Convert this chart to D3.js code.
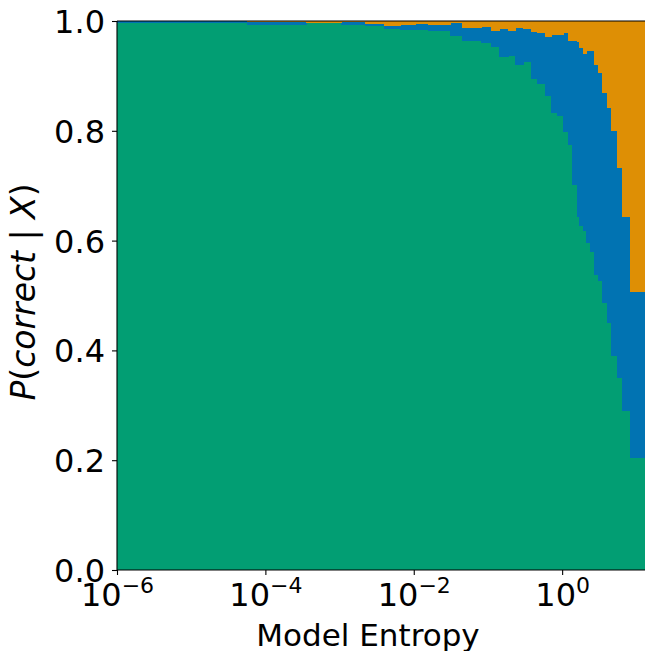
<!DOCTYPE html>
<html>
<head>
<meta charset="utf-8">
<script src="https://cdn.jsdelivr.net/npm/d3@7"></script>
<style>
  html, body { margin: 0; padding: 0; background: #fff; overflow: hidden; }
  svg { display: block; font-family: "DejaVu Sans", sans-serif; }
</style>
</head>
<body>
<svg id="chart" width="645" height="651"></svg>
<script>
// Bin edges of model entropy (log-spaced)
const binEdges = [1e-6, 5.66e-5, 3.53e-4, 1.05e-3, 2.21e-3, 3.98e-3, 6.55e-3, 1.04e-2, 1.56e-2,
  3.09e-2, 4.48e-2, 8.09e-2, 0.110, 0.141, 0.187, 0.232, 0.298, 0.382, 0.460, 0.590, 0.710,
  0.855, 1.03, 1.21, 1.36, 1.59, 1.69, 1.92, 2.10, 2.38, 2.70, 3.05, 3.46, 4.04, 4.57, 5.51,
  6.44, 8.26, 13.5];
// Stacked fractions per bin
const pGreen = [0.9969, 0.9933, 0.9969, 0.9933, 0.9909, 0.9854, 0.9836, 0.9836, 0.9818, 0.9727,
  0.9636, 0.9599, 0.9526, 0.9344, 0.9362, 0.9199, 0.9253, 0.8944, 0.8852, 0.8634, 0.8324,
  0.8270, 0.7978, 0.7741, 0.7013, 0.6430, 0.6266, 0.6175, 0.5956, 0.5792, 0.5373, 0.5264,
  0.4863, 0.4499, 0.3898, 0.3497, 0.2896, 0.2040];
const pBlue = [0.0031, 0.0049, 0.0000, 0.0049, 0.0042, 0.0055, 0.0091, 0.0109, 0.0109, 0.0237,
  0.0237, 0.0292, 0.0292, 0.0510, 0.0456, 0.0674, 0.0601, 0.0856, 0.0929, 0.1075, 0.1421,
  0.1475, 0.1803, 0.1895, 0.2623, 0.3187, 0.3242, 0.3224, 0.3498, 0.3662, 0.3826, 0.3789,
  0.3826, 0.3916, 0.4098, 0.3825, 0.3534, 0.3024];
const pOrange = [0.0000, 0.0018, 0.0031, 0.0018, 0.0049, 0.0091, 0.0073, 0.0055, 0.0073, 0.0036,
  0.0127, 0.0109, 0.0182, 0.0146, 0.0182, 0.0127, 0.0146, 0.0200, 0.0219, 0.0291, 0.0255,
  0.0255, 0.0219, 0.0364, 0.0364, 0.0383, 0.0492, 0.0601, 0.0546, 0.0546, 0.0801, 0.0947,
  0.1311, 0.1585, 0.2004, 0.2678, 0.3570, 0.4936];
const seriesKeys = ["green", "blue", "orange"];
const seriesColors = ["#029E73", "#0173B2", "#DE8F05"];
const xTickValues = [1e-6, 1e-4, 1e-2, 1e0];
const xTickExponents = ["\u22126", "\u22124", "\u22122", "0"];
const yTickValues = [0, 0.2, 0.4, 0.6, 0.8, 1.0];
const xLabel = "Model Entropy";

(function () {
const svg = d3.select("#chart");
const mLeft = 117, mTop = 21, mBottom = 570;
const x = d3.scaleLog().domain([1e-6, 13.5]).range([mLeft, 646]);
const y = d3.scaleLinear().domain([0, 1]).range([mBottom, mTop]);

const table = pGreen.map((g, i) => ({
  x0: binEdges[i], x1: binEdges[i + 1], green: g, blue: pBlue[i], orange: pOrange[i]
}));
const stacked = d3.stack().keys(seriesKeys)(table);

svg.append("g").selectAll("g").data(stacked).join("g")
  .attr("fill", (d, i) => seriesColors[i])
  .selectAll("rect").data(d => d).join("rect")
  .attr("shape-rendering", "crispEdges")
  .attr("x", d => x(d.data.x0))
  .attr("width", d => x(d.data.x1) - x(d.data.x0) + 0.5)
  .attr("y", d => y(d[1]))
  .attr("height", d => y(d[0]) - y(d[1]));

// spines
const spine = svg.append("g").attr("stroke", "#000").attr("stroke-width", 1.1);
spine.append("line").attr("x1", mLeft).attr("x2", mLeft).attr("y1", mTop).attr("y2", mBottom);
spine.append("line").attr("x1", mLeft).attr("x2", 646).attr("y1", mBottom).attr("y2", mBottom);
spine.append("line").attr("x1", mLeft).attr("x2", 646).attr("y1", mTop).attr("y2", mTop);

// y axis
const yAxis = d3.axisLeft(y).tickValues(yTickValues).tickFormat(d3.format(".1f"))
  .tickSize(5).tickPadding(7);
const gy = svg.append("g").attr("transform", `translate(${mLeft},0)`).call(yAxis);
gy.select(".domain").remove();
gy.selectAll(".tick line").attr("stroke-width", 1.1);
gy.selectAll(".tick text").attr("font-size", 32).attr("font-family", "DejaVu Sans")
  .attr("fill", "#000").attr("dy", "0.36em");

// x axis
const xAxis = d3.axisBottom(x).tickValues(xTickValues).tickFormat("").tickSize(5);
const gx = svg.append("g").attr("transform", `translate(0,${mBottom})`).call(xAxis);
gx.select(".domain").remove();
gx.selectAll(".tick line").attr("stroke-width", 1.1);
gx.selectAll(".tick").each(function(d, i) {
  const t = d3.select(this).append("text").attr("y", 36).attr("text-anchor", "middle")
    .attr("fill", "#000").attr("font-family", "DejaVu Sans");
  t.append("tspan").attr("font-size", 32).text("10");
  t.append("tspan").attr("font-size", 22).attr("dy", -13).text(xTickExponents[i]);
});

// x label
svg.append("text").attr("x", 368).attr("y", 646).attr("text-anchor", "middle")
  .attr("font-size", 31).attr("fill", "#000").text(xLabel);

// y label (math style)
const yl = svg.append("text").attr("transform", "translate(35,292) rotate(-90)")
  .attr("text-anchor", "middle").attr("font-size", 33).attr("fill", "#000");
yl.append("tspan").attr("font-style", "italic").text("P");
yl.append("tspan").text("(");
yl.append("tspan").attr("font-style", "italic").text("correct");
yl.append("tspan").text(" | ");
yl.append("tspan").attr("font-style", "italic").text("X");
yl.append("tspan").text(")");
})();
</script>
</body>
</html>
